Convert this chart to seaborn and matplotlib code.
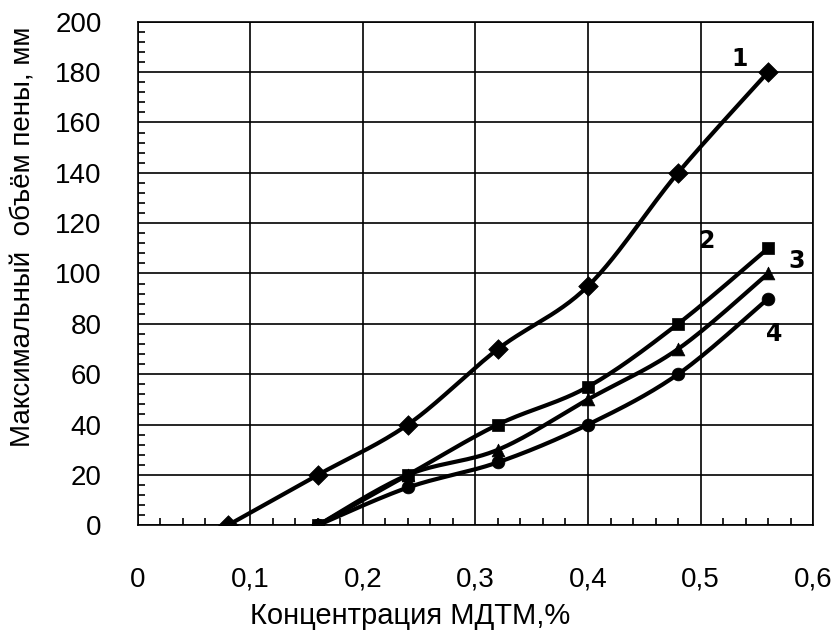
import numpy as np
import pandas as pd
import matplotlib
matplotlib.use('Agg')
import matplotlib.pyplot as plt
import seaborn as sns
from matplotlib.ticker import MultipleLocator, FuncFormatter

# Data
conc_1 = [0.08, 0.16, 0.24, 0.32, 0.40, 0.48, 0.56]
foam_1 = [0, 20, 40, 70, 95, 140, 180]
conc_234 = [0.16, 0.24, 0.32, 0.40, 0.48, 0.56]
foam_2 = [0, 20, 40, 55, 80, 110]
foam_3 = [0, 20, 30, 50, 70, 100]
foam_4 = [0, 15, 25, 40, 60, 90]

series = [
    ('1', conc_1, foam_1, 'D', 100),
    ('2', conc_234, foam_2, 's', 75),
    ('3', conc_234, foam_3, '^', 85),
    ('4', conc_234, foam_4, 'o', 85),
]
curve_labels = {'1': (0.535, 185), '2': (0.505, 113), '3': (0.585, 105), '4': (0.565, 76)}


def smooth(xs, ys, n=30):
    # Excel-like smoothed line (Catmull-Rom through the points)
    p = np.column_stack([xs, ys]).astype(float)
    p = np.vstack([p[0], p, p[-1]])
    out = []
    for i in range(1, len(p) - 2):
        p0, p1, p2, p3 = p[i - 1], p[i], p[i + 1], p[i + 2]
        t = np.linspace(0, 1, n)[:, None]
        seg = 0.5 * ((2 * p1) + (-p0 + p2) * t + (2 * p0 - 5 * p1 + 4 * p2 - p3) * t ** 2
                     + (-p0 + 3 * p1 - 3 * p2 + p3) * t ** 3)
        out.append(seg)
    out = np.vstack(out)
    return out[:, 0], out[:, 1]


sns.set_style('white')
plt.rcParams['font.family'] = ['Liberation Sans', 'DejaVu Sans']
plt.rcParams['text.color'] = 'black'
plt.rcParams['axes.labelcolor'] = 'black'

fig, ax = plt.subplots(figsize=(8.4, 6.39), dpi=100)
fig.subplots_adjust(left=0.164, right=0.968, top=0.966, bottom=0.178)

for name, xs, ys, mk, size in series:
    sx, sy = smooth(xs, ys)
    curve = pd.DataFrame({'x': sx, 'y': sy})
    sns.lineplot(data=curve, x='x', y='y', sort=False, color='black', linewidth=3.0,
                 ax=ax, zorder=3)
    pts = pd.DataFrame({'x': xs, 'y': ys})
    sns.scatterplot(data=pts, x='x', y='y', marker=mk, color='black', s=size,
                    edgecolor='black', linewidth=0.5, ax=ax, zorder=4)
    lx, ly = curve_labels[name]
    ax.text(lx, ly, name, fontsize=17, fontweight='bold', ha='center', va='center',
            color='black', family=['DejaVu Sans'])

ax.set_xlim(0, 0.6)
ax.set_ylim(0, 200)
ax.xaxis.set_major_locator(MultipleLocator(0.1))
ax.xaxis.set_minor_locator(MultipleLocator(0.02))
ax.yaxis.set_major_locator(MultipleLocator(20))
ax.yaxis.set_minor_locator(MultipleLocator(4))
ax.xaxis.set_major_formatter(FuncFormatter(lambda v, p: '0' if abs(v) < 1e-9 else f'{v:.1f}'.replace('.', ',')))
ax.grid(True, which='major', color='black', linewidth=1.2)
ax.tick_params(axis='both', which='major', length=0, labelsize=20, colors='black')
ax.tick_params(axis='x', which='major', pad=30)
ax.tick_params(axis='y', which='major', pad=26)
ax.tick_params(axis='both', which='minor', direction='in', length=5, width=1.2,
               bottom=True, left=True, color='black')
for sp in ax.spines.values():
    sp.set_color('black')
    sp.set_linewidth(1.2)

ax.set_xlabel('Концентрация МДТМ,%', fontsize=21, color='black',
              family=['Liberation Sans Narrow', 'Liberation Sans', 'DejaVu Sans'])
ax.set_ylabel('Максимальный  объём пены, мм', fontsize=20, color='black')
ax.xaxis.set_label_coords(0.404, -0.153)
ax.yaxis.set_label_coords(-0.15, 0.573)

plt.savefig('out.png', dpi=100)
